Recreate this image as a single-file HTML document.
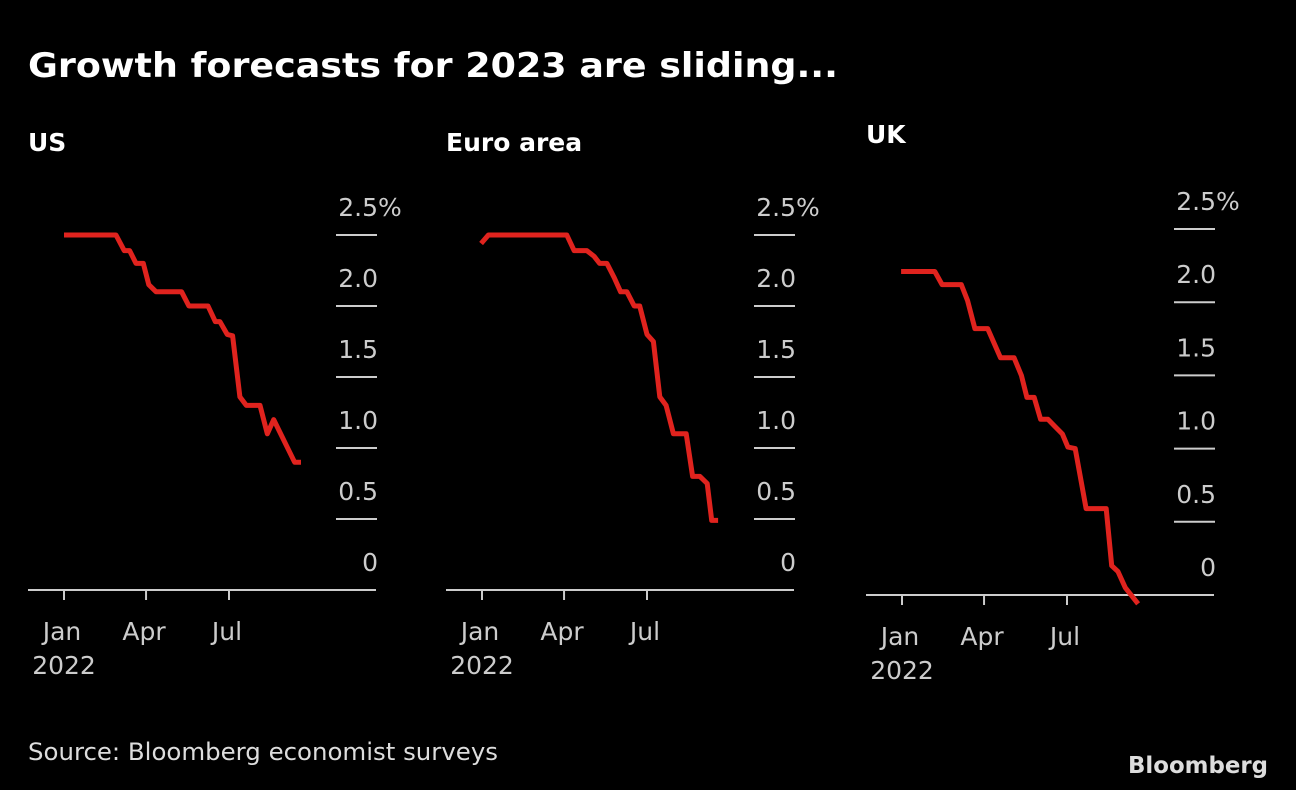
<!DOCTYPE html>
<html><head><meta charset="utf-8"><style>
html,body{margin:0;padding:0;background:#000;}
svg{display:block;font-family:"DejaVu Sans","Liberation Sans",sans-serif;}
</style></head><body>
<svg id="chart" width="1296" height="790" xmlns="http://www.w3.org/2000/svg">
<rect width="1296" height="790" fill="#000"/>
<text x="28" y="77" fill="#fff" font-size="34" font-weight="bold" textLength="810" lengthAdjust="spacingAndGlyphs">Growth forecasts for 2023 are sliding...</text>
<text x="28" y="760" fill="#ddd" font-size="24" textLength="470" lengthAdjust="spacingAndGlyphs">Source: Bloomberg economist surveys</text>
<text x="1268" y="773" fill="#ddd" font-size="23" font-weight="bold" text-anchor="end" textLength="140" lengthAdjust="spacingAndGlyphs">Bloomberg</text>
</svg>
<script>
const usDays=[0,57,66,72,79,87,93,101,129,137,158,166,171,179,185,193,200,215,223,230,253,260];
const usVals=[2.5,2.5,2.39,2.39,2.3,2.3,2.15,2.1,2.1,2.0,2.0,1.89,1.89,1.8,1.79,1.36,1.3,1.3,1.1,1.2,0.9,0.9];
const euDays=[-1,7,93,101,115,123,129,137,145,152,159,167,173,181,188,195,202,210,224,231,239,247,252,259];
const euVals=[2.44,2.5,2.5,2.39,2.39,2.35,2.3,2.3,2.2,2.1,2.1,2.0,2.0,1.8,1.75,1.36,1.3,1.1,1.1,0.8,0.8,0.75,0.49,0.49];
const ukDays=[-1,36,44,65,72,80,94,108,123,131,137,145,152,160,168,176,182,190,202,224,230,237,245,259];
const ukVals=[2.21,2.21,2.12,2.12,2.01,1.82,1.82,1.62,1.62,1.5,1.35,1.35,1.2,1.2,1.15,1.1,1.01,1.0,0.59,0.59,0.2,0.16,0.05,-0.06];
const yTicks=[0,0.5,1.0,1.5,2.0,2.5];
const yTickLabels=["0","0.5","1.0","1.5","2.0","2.5"];
const xTickDays=[0,90,181];
const xTickLabels=["Jan","Apr","Jul"];
const NS="http://www.w3.org/2000/svg";
const svg=document.getElementById('chart');
function mk(tag,attrs,parent){const e=document.createElementNS(NS,tag);for(const k in attrs)e.setAttribute(k,attrs[k]);(parent||svg).appendChild(e);return e;}
function panel(key,title,titleY,ox,axisY,pxPer,days,vals){
  const g=mk('g',{});
  
  
  const xs=d=>ox+36+d*(165/181);
  const ys=v=>axisY-v*pxPer;
  const t=mk('text',{x:ox,y:titleY,fill:'#fff','font-size':25,'font-weight':'bold'},g);t.textContent=title;
  
  
  const ax=mk('line',{x1:ox,x2:ox+348,y1:axisY,y2:axisY,stroke:'#ccc','stroke-width':2},g);
  
  
  yTicks.forEach((v,i)=>{
    if(v>0){const l=mk('line',{x1:ox+308,x2:ox+349,y1:ys(v),y2:ys(v),stroke:'#ccc','stroke-width':2},g);
      
      }
    const tx=mk('text',{x:ox+350,y:ys(v)-19,fill:'#ccc','font-size':25,'text-anchor':'end'},g);tx.textContent=yTickLabels[i];
    
    
    if(i==yTicks.length-1){const p=mk('text',{x:ox+350,y:ys(v)-19,fill:'#ccc','font-size':25},g);p.textContent='%';
      
      }
  });
  xTickDays.forEach((d,i)=>{
    const l=mk('line',{x1:xs(d),x2:xs(d),y1:axisY,y2:axisY+10,stroke:'#ccc','stroke-width':2},g);
    
    
    const tx=mk('text',{x:xs(d)-2,y:axisY+50,fill:'#ccc','font-size':25,'text-anchor':'middle'},g);tx.textContent=xTickLabels[i];
    
    
  });
  const yr=mk('text',{x:xs(0),y:axisY+84,fill:'#ccc','font-size':25,'text-anchor':'middle'},g);yr.textContent='2022';
  
  
  const pts=days.map((d,i)=>xs(d).toFixed(1)+','+ys(vals[i]).toFixed(1)).join(' ');
  const pl=mk('polyline',{points:pts,fill:'none',stroke:'#e0231e','stroke-width':5,'stroke-linejoin':'round'},g);
  
  
}
panel('us','US',151,28,590,142,usDays,usVals);
panel('euro','Euro area',151,446,590,142,euDays,euVals);
panel('uk','UK',143,866,595,146.4,ukDays,ukVals);
</script>
</body></html>
